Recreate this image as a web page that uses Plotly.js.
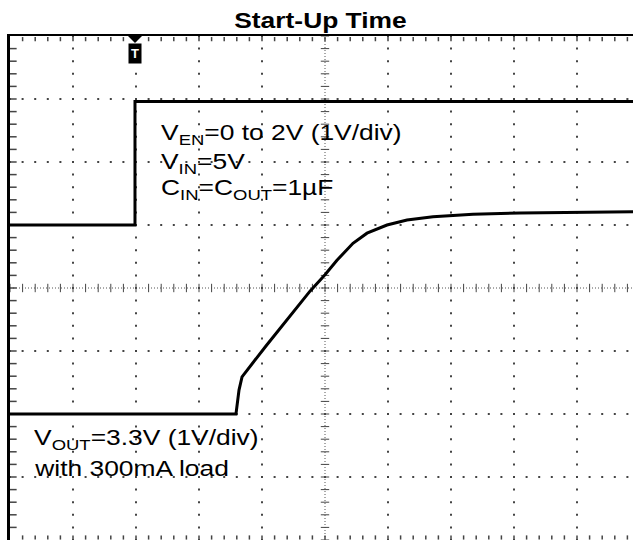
<!DOCTYPE html>
<html><head><meta charset="utf-8">
<script src="https://cdn.plot.ly/plotly-3.0.1.min.js"></script>
<style>html,body{margin:0;padding:0;background:#fff}</style>
</head><body><div id="chart" style="width:633px;height:540px"></div>
<script>
// Scope screen: time in divisions, voltage in volts (1 V/div)
const enTime   = [0, 1.984, 1.984, 9.889];
const enVolts  = [0, 0, 1.96, 1.96];
const outTime  = [0, 3.587, 3.635, 3.683, 4.063, 4.444, 4.762, 5.0, 5.190, 5.444, 5.667, 5.984, 6.302, 6.714, 7.349, 8.095, 9.889];
const outVolts = [0, 0, 0.38, 0.59, 1.08, 1.56, 1.95, 2.21, 2.44, 2.71, 2.87, 3.0, 3.08, 3.13, 3.17, 3.19, 3.21];
const enGroundDiv = 1;    // channel ground marker positions (divisions from centre)
const outGroundDiv = -2;
const titleText = 'Start-Up Time';
const enLines  = ['V<sub>EN</sub>=0 to 2V (1V/div)', 'V<sub>IN</sub>=5V', 'C<sub>IN</sub>=C<sub>OUT</sub>=1µF'];
const outLines = ['V<sub>OUT</sub>=3.3V (1V/div)', 'with 300mA load'];

const X_MAX = 623 / 63;   // visible screen width in divisions
const FONT = 'Liberation Sans, Arial, sans-serif';

// graticule
const dX = [], dY = [];
for (let gx = 1; gx <= 9; gx++) { if (gx === 5) continue; for (let k = 0; k <= 40; k++) { dX.push(gx); dY.push(-4 + k * 0.2); } }
for (let gy = -3; gy <= 3; gy++) { if (gy === 0) continue; for (let k = 0; k * 0.2 <= X_MAX; k++) { dX.push(k * 0.2); dY.push(gy); } }
const hX = [], hY = [];   // ticks on horizontal centre line
for (let k = 0; k * 0.2 <= X_MAX; k++) { hX.push(k * 0.2); hY.push(0); }
const vX = [], vY = [];   // ticks on vertical centre line
for (let k = 0; k <= 40; k++) { vX.push(5); vY.push(-4 + k * 0.2); }
const eX = [], eY = [];   // top & bottom edge ticks
for (let k = 1; k * 0.2 <= X_MAX; k++) { eX.push(k * 0.2, k * 0.2); eY.push(3.95, -3.96); }
const lX = [], lY = [];   // left edge ticks
for (let k = 1; k < 40; k++) { lX.push(0.05); lY.push(-4 + k * 0.2); }

const traces = [
  {x: dX, y: dY, mode: 'markers', hoverinfo: 'skip', marker: {symbol: 'square', size: 2, color: '#444', line: {width: 0}}},
  {x: [0, X_MAX], y: [0, 0], mode: 'lines', hoverinfo: 'skip', line: {color: '#555', width: 1, dash: '1px,2px'}},
  {x: [5, 5], y: [-4, 4], mode: 'lines', hoverinfo: 'skip', line: {color: '#555', width: 1, dash: '1px,2px'}},
  {x: hX, y: hY, mode: 'markers', hoverinfo: 'skip', marker: {symbol: 'line-ns', size: 6, line: {width: 1, color: '#444'}}},
  {x: vX, y: vY, mode: 'markers', hoverinfo: 'skip', marker: {symbol: 'line-ew', size: 6, line: {width: 1, color: '#444'}}},
  {x: eX, y: eY, mode: 'markers', hoverinfo: 'skip', marker: {symbol: 'line-ns', size: 3, line: {width: 1.5, color: '#444'}}},
  {x: lX, y: lY, mode: 'markers', hoverinfo: 'skip', marker: {symbol: 'line-ew', size: 5, line: {width: 1.5, color: '#444'}}},
  {name: 'V_EN', x: enTime, y: enVolts.map(v => v + enGroundDiv), mode: 'lines', line: {color: '#000', width: 3}},
  {name: 'V_OUT', x: outTime, y: outVolts.map(v => v + outGroundDiv), mode: 'lines', line: {color: '#000', width: 3}}
];

const txtFont = {family: FONT, size: 22, color: '#000'};
const ann = [];
const enY = [134, 163, 189], outY = [439, 468.5];
enLines.forEach((t, i) => ann.push({text: t, xref: 'paper', yref: 'paper', x: (159 - 10) / 623, y: (540 - enY[i]) / 504, xanchor: 'left', yanchor: 'middle', showarrow: false, font: txtFont}));
outLines.forEach((t, i) => ann.push({text: t, xref: 'paper', yref: 'paper', x: (32 - 10) / 623, y: (540 - outY[i]) / 504, xanchor: 'left', yanchor: 'middle', showarrow: false, font: txtFont}));
// trigger marker label
ann.push({text: '<b>T</b>', xref: 'x', yref: 'paper', x: enTime[1], y: (540 - 53) / 504, yanchor: 'middle', showarrow: false, bgcolor: '#000', borderpad: 2, font: {family: FONT, size: 13, color: '#fff'}});

const layout = {
  width: 633, height: 540,
  margin: {l: 10, r: 0, t: 36, b: 0},
  paper_bgcolor: '#fff', plot_bgcolor: '#fff',
  showlegend: false,
  title: {text: '<b>' + titleText + '</b>', font: {family: FONT, size: 22, color: '#000'},
          x: 320.5 / 633, xref: 'container', xanchor: 'center', y: 1 - 20 / 540, yref: 'container', yanchor: 'middle'},
  xaxis: {range: [0, X_MAX], side: 'top', showline: true, linewidth: 2, linecolor: '#000', showgrid: false, zeroline: false, showticklabels: false, ticks: ''},
  yaxis: {range: [-4, 4], showline: true, linewidth: 3.5, linecolor: '#000', showgrid: false, zeroline: false, showticklabels: false, ticks: ''},
  shapes: [{type: 'path', xref: 'x', yref: 'paper', xsizemode: 'pixel', ysizemode: 'pixel',
            xanchor: enTime[1], yanchor: 1, path: 'M-7,0 L7,0 L0,-7 Z',
            fillcolor: '#000', line: {width: 0}}],
  annotations: ann
};

Plotly.newPlot('chart', traces, layout, {staticPlot: true, displayModeBar: false}).then(() => {
  const stretch = (el, origin) => {
    el.style.transformBox = 'fill-box';
    el.style.transformOrigin = origin;
    el.style.transform = 'scaleX(1.2)';
  };
  document.querySelectorAll('#chart .annotation-text').forEach(el => {
    if (el.textContent.length > 2) stretch(el, '0% 50%');
  });
  document.querySelectorAll('#chart .gtitle').forEach(el => stretch(el, '50% 50%'));
});
</script></body></html>
